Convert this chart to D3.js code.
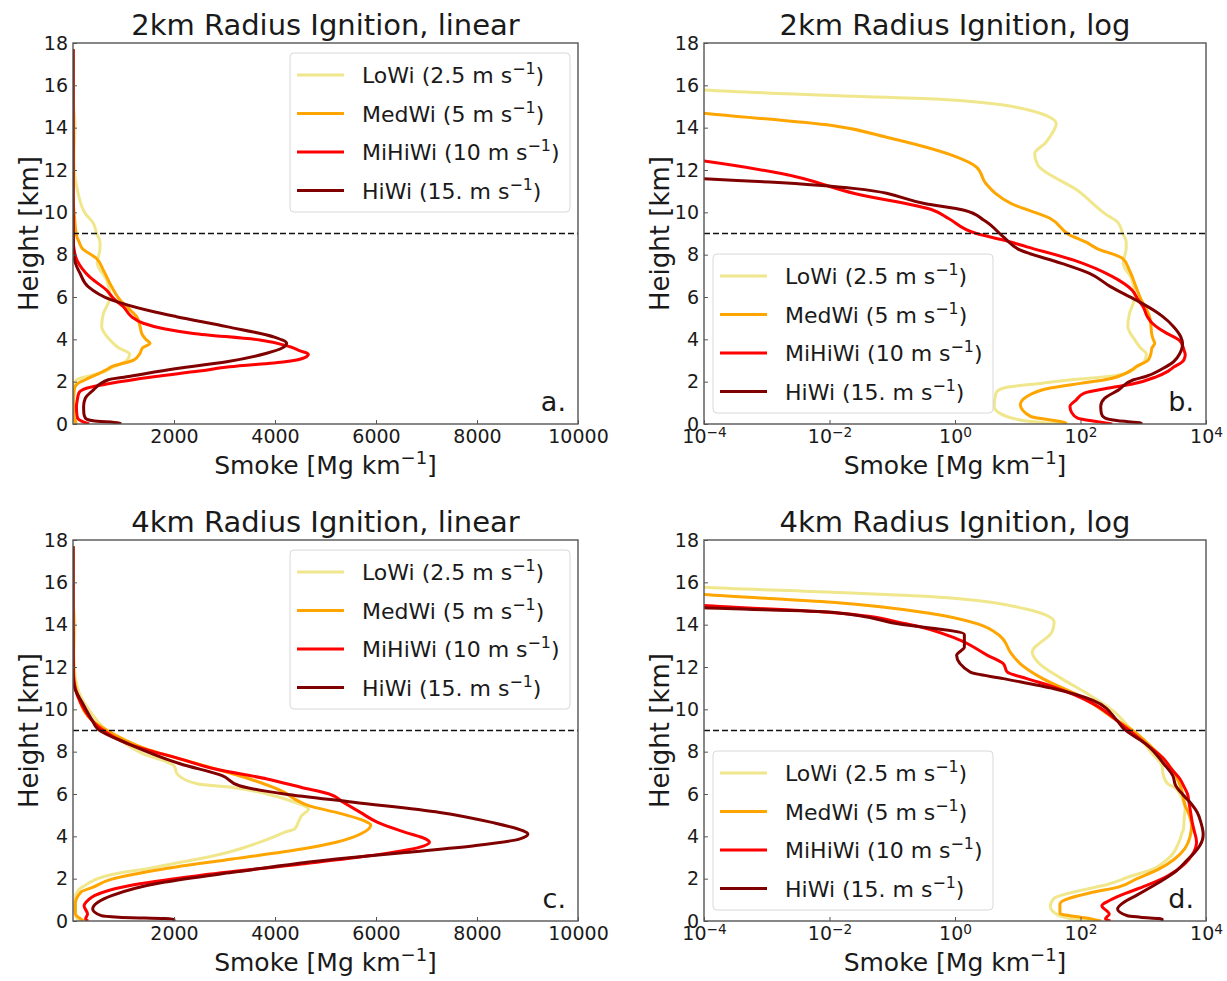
<!DOCTYPE html>
<html>
<head>
<meta charset="utf-8">
<script src="https://cdn.jsdelivr.net/npm/d3@7"></script>
<style>
body { margin: 0; background: #fff; }
svg text { font-family: "DejaVu Sans", sans-serif; fill: #1a1a1a; }
</style>
</head>
<body>
<div id="contents"></div>
<script>
// smoke profiles, [height km, smoke Mg/km]
const lowWind2km = [[0,55],[0.17,12],[0.52,5.1],[0.83,4.2],[1.46,4.5],[1.7,6],[1.93,25],[2.1,80],[2.25,280],[2.4,535],[2.7,800],[3.0,1063],[3.3,1120],[3.6,900],[3.97,733],[4.3,620],[4.6,568],[5.2,600],[6.0,733],[6.8,667],[7.6,480],[8.3,535],[8.6,535],[9.0,470],[9.5,400],[9.94,245],[11.04,89],[12.22,21],[12.77,18.6],[13.3,28],[13.71,35],[14.18,41],[14.81,16],[15.35,0.51],[15.52,0.011],[15.78,1e-4],[16.0,1e-5],[17.7,1e-7]];
const medWind2km = [[0,60],[0.08,55],[0.36,16],[0.91,11],[1.3,14],[1.7,33],[1.92,100],[2.09,245],[2.55,650],[2.72,776],[3.02,1200],[3.34,1327],[3.6,1380],[3.81,1525],[4.0,1440],[4.28,1360],[4.6,1330],[5.07,1261],[5.39,1129],[5.86,931],[6.48,766],[7.27,601],[7.82,467],[8.29,184],[8.6,120],[8.92,68],[9.71,33],[10.41,7.9],[11.36,3.1],[12.14,2.2],[12.69,0.91],[13.55,0.081],[14.1,0.011],[14.68,1e-4],[15.0,1e-5],[17.7,1e-7]];
const miHiWind2km = [[0,320],[0.1,200],[0.28,90],[0.55,72],[0.83,68],[1.13,85],[1.46,115],[1.7,282],[1.9,700],[2.23,1600],[2.5,2500],[2.7,3100],[2.94,4200],[3.15,4600],[3.3,4660],[3.45,4500],[3.65,4300],[3.97,3700],[4.28,2383],[4.5,1800],[4.76,1393],[5.07,1162],[5.54,997],[5.86,832],[6.33,661],[6.96,324],[7.74,78],[8.37,14],[8.69,5.9],[9.0,2.2],[9.71,0.79],[10.1,0.45],[10.88,0.026],[11.83,0.0017],[12.42,1e-4],[12.8,1e-5],[17.7,1e-7]];
const hiWind2km = [[0,950],[0.05,900],[0.15,400],[0.28,245],[0.5,215],[0.83,210],[1.2,240],[1.6,400],[2.09,700],[2.23,1063],[2.62,2053],[2.94,3043],[3.34,3835],[3.6,4150],[3.81,4231],[4.12,3966],[4.6,3043],[5.07,2050],[5.3,1600],[5.86,760],[6.49,300],[7.12,139],[7.59,50],[8.21,11],[8.84,5.9],[9.63,2.9],[10.1,1.4],[10.41,0.34],[11.12,0.026],[11.43,0.0011],[11.59,1e-4],[11.8,1e-5],[17.7,1e-7]];

const lowWind4km = [[0,200],[0.05,105],[0.28,44],[0.68,33],[1.07,38],[1.46,105],[1.7,250],[2.09,600],[2.3,1000],[2.46,1450],[2.72,2000],[2.93,2476],[3.2,3000],[3.56,3502],[3.9,3900],[4.19,4186],[4.35,4391],[4.66,4460],[4.98,4528],[5.29,4665],[5.61,4391],[6.0,3844],[6.31,3160],[6.47,2476],[6.94,2066],[7.34,1997],[7.91,1380],[8.6,900],[9.01,660],[9.95,324],[10.74,129],[11.45,50],[12.23,21],[12.7,17],[13.65,35],[14.12,38],[14.75,13],[15.33,0.39],[15.53,0.011],[15.77,1e-4],[16.0,1e-5],[17.7,1e-7]];
const medWind4km = [[0,212],[0.1,150],[0.36,47],[0.8,47],[1.35,150],[1.6,400],[1.98,766],[2.46,1792],[2.93,3160],[3.4,4528],[3.72,5212],[4.19,5759],[4.54,5896],[4.74,5759],[5.13,5212],[5.45,4665],[5.76,4391],[6.08,4186],[6.71,3502],[7.42,2476],[8.13,1450],[9.07,630],[9.48,380],[10.58,105],[11.45,25],[12.15,11],[12.63,7.9],[13.49,5.1],[14.04,2.3],[14.54,0.39],[15.06,0.011],[15.42,1e-4],[15.7,1e-5],[17.7,1e-7]];
const miHiWind4km = [[0,300],[0.1,250],[0.33,287],[0.72,219],[0.99,300],[1.2,424],[1.67,1108],[2.14,2476],[2.69,4528],[3.09,5896],[3.48,6854],[3.72,7059],[3.87,6990],[4.19,6580],[4.66,6033],[5.13,5691],[5.61,5349],[6.0,5075],[6.31,4528],[6.71,3844],[7.18,2818],[7.65,2134],[8.36,1108],[9.07,560],[9.32,437],[10.27,158],[11.05,38],[11.45,14],[11.76,6.8],[12.15,5.9],[12.55,3.3],[13.33,1.07],[14.04,0.166],[14.59,0.0093],[14.91,1e-4],[15.2,1e-5],[17.7,1e-7]];
const hiWind4km = [[0,2000],[0.09,1997],[0.18,900],[0.25,561],[0.57,390],[0.9,500],[1.2,766],[1.83,1792],[2.3,3160],[2.93,5212],[3.24,6580],[3.56,7948],[3.87,8837],[4.11,9008],[4.27,8906],[4.66,8290],[5.13,7264],[5.61,5554],[6.0,4186],[6.39,3297],[6.87,2955],[7.42,2134],[8.36,1108],[9.07,492],[9.48,380],[10.42,158],[10.97,38],[11.45,5.9],[11.76,1.74],[12.55,1.06],[12.94,1.41],[13.54,1.41],[14.04,0.123],[14.59,0.011],[14.8,1e-4],[15.1,1e-5],[17.7,1e-7]];

const seriesNames = ["LoWi", "MedWi", "MiHiWi", "HiWi"];
const windSpeeds = ["2.5", "5", "10", "15."];
const colours = ["#f0e68c", "#ffa500", "#ff0000", "#800000"];

const heightTicks = [0, 2, 4, 6, 8, 10, 12, 14, 16, 18];
const linearTicks = [2000, 4000, 6000, 8000, 10000];
const logTicks = [1e-4, 1e-2, 1, 1e2, 1e4];
const tropopause = 9;

const profiles2km = [lowWind2km, medWind2km, miHiWind2km, hiWind2km];
const profiles4km = [lowWind4km, medWind4km, miHiWind4km, hiWind4km];

const panels = [
    {letter: "a", title: "2km Radius Ignition, linear", log: false, data: profiles2km, left: 73, top: 43, legend: "upper right"},
    {letter: "b", title: "2km Radius Ignition, log", log: true, data: profiles2km, left: 704, top: 43, legend: "lower left"},
    {letter: "c", title: "4km Radius Ignition, linear", log: false, data: profiles4km, left: 73, top: 540, legend: "upper right"},
    {letter: "d", title: "4km Radius Ignition, log", log: true, data: profiles4km, left: 704, top: 540, legend: "lower left"}
];

const width = 1227, height = 981;
const spine = "#555";

var svg = d3.select("#contents").append("svg")
        .attr("width", width)
        .attr("height", height);

svg.append("rect").attr("width", width).attr("height", height).attr("fill", "#fff");

panels.forEach(function(p) {
    p.width = p.log ? 502 : 505;
    p.height = 381;
    drawPanel(p);
});

function createScales(p) {
    var x = p.log ? d3.scaleLog().domain([1e-4, 1e4]) : d3.scaleLinear().domain([0, 10000]);
    x.range([0, p.width]);
    var y = d3.scaleLinear().domain([0, 18]).range([p.height, 0]);
    return {x: x, y: y};
}

function drawPanel(p) {
    var s = createScales(p);
    var g = svg.append("g").attr("transform", "translate(" + p.left + "," + p.top + ")");

    g.append("clipPath")
            .attr("id", "clip-" + p.letter)
        .append("rect")
            .attr("width", p.width)
            .attr("height", p.height);

    var line = d3.line()
            .x(d => s.x(d[1]))
            .y(d => s.y(d[0]))
            .curve(d3.curveMonotoneY);

    var lines = g.append("g").attr("clip-path", "url(#clip-" + p.letter + ")");
    lines.selectAll("path.profile")
        .data(p.data)
        .enter().append("path")
            .attr("class", "profile")
            .attr("d", line)
            .attr("fill", "none")
            .attr("stroke", (d, i) => colours[i])
            .attr("stroke-width", 3)
            .attr("stroke-linejoin", "round");

    // 9 km reference height
    lines.append("line")
            .attr("x1", 0).attr("x2", p.width)
            .attr("y1", s.y(tropopause)).attr("y2", s.y(tropopause))
            .attr("stroke", "#111")
            .attr("stroke-width", 1.5)
            .attr("stroke-dasharray", "6,3");

    drawAxes(g, p, s);
    drawLegend(g, p);

    g.append("rect")
            .attr("width", p.width)
            .attr("height", p.height)
            .attr("fill", "none")
            .attr("stroke", spine)
            .attr("stroke-width", 1.4);

    g.append("text")
            .attr("x", p.width / 2)
            .attr("y", -8)
            .attr("text-anchor", "middle")
            .attr("font-size", 29)
            .text(p.title);

    g.append("text")
            .attr("x", p.width - 12)
            .attr("y", p.height - 13)
            .attr("text-anchor", "end")
            .attr("font-size", 27)
            .text(p.letter + ".");
}

function drawAxes(g, p, s) {
    var yAxis = d3.axisLeft(s.y)
            .tickValues(heightTicks)
            .tickSizeInner(-4)
            .tickSizeOuter(0)
            .tickPadding(5)
            .tickFormat(d3.format("d"));

    var xAxis = d3.axisBottom(s.x)
            .tickValues(p.log ? logTicks : linearTicks)
            .tickSizeInner(-4)
            .tickSizeOuter(0)
            .tickPadding(6)
            .tickFormat(p.log ? () => "" : d3.format("d"));

    var ya = g.append("g").call(yAxis);
    var xa = g.append("g").attr("transform", "translate(0," + p.height + ")").call(xAxis);

    [ya, xa].forEach(function(a) {
        a.attr("font-family", null).attr("font-size", 19);
        a.select(".domain").remove();
        a.selectAll(".tick line").attr("stroke", spine).attr("stroke-width", 1);
        a.selectAll(".tick text").attr("fill", "#1a1a1a");
    });

    if (p.log) {
        xa.selectAll(".tick text").each(function(d) {
            var t = d3.select(this);
            var e = Math.round(Math.log10(d));
            t.append("tspan").text("10");
            t.append("tspan")
                    .attr("dy", "-0.5em")
                    .attr("font-size", "0.72em")
                    .text((e < 0 ? "\u2212" : "") + Math.abs(e));
        });
    }

    var xl = g.append("text")
            .attr("x", p.width / 2)
            .attr("y", p.height + 50)
            .attr("text-anchor", "middle")
            .attr("font-size", 25);
    xl.append("tspan").text("Smoke [Mg km");
    xl.append("tspan").attr("dy", "-0.55em").attr("font-size", "0.72em").text("\u22121");
    xl.append("tspan").attr("dy", "0.4em").text("]");

    g.append("text")
            .attr("transform", "translate(-35," + (p.height / 2) + ") rotate(-90)")
            .attr("text-anchor", "middle")
            .attr("font-size", 26)
            .text("Height [km]");
}

function drawLegend(g, p) {
    var boxW = 280, boxH = 159;
    var bx = p.legend === "upper right" ? p.width - 8 - boxW : 9;
    var by = p.legend === "upper right" ? 10 : p.height - 11 - boxH;

    var lg = g.append("g").attr("transform", "translate(" + bx + "," + by + ")");
    lg.append("rect")
            .attr("width", boxW)
            .attr("height", boxH)
            .attr("rx", 4)
            .attr("fill", "#fff")
            .attr("fill-opacity", 0.8)
            .attr("stroke", "#d8d8d8")
            .attr("stroke-width", 1);

    var rows = lg.selectAll("g.row")
        .data(seriesNames)
        .enter().append("g")
            .attr("class", "row")
            .attr("transform", (d, i) => "translate(0," + (22 + i * 38.5) + ")");

    rows.append("line")
            .attr("x1", 7).attr("x2", 54)
            .attr("stroke", (d, i) => colours[i])
            .attr("stroke-width", 3);

    var label = rows.append("text")
            .attr("x", 72)
            .attr("y", 8)
            .attr("font-size", 22);
    label.append("tspan").text((d, i) => d + " (" + windSpeeds[i] + " m s");
    label.append("tspan").attr("dy", "-0.55em").attr("font-size", "0.72em").text("\u22121");
    label.append("tspan").attr("dy", "0.4em").text(")");
}
</script>
</body>
</html>
